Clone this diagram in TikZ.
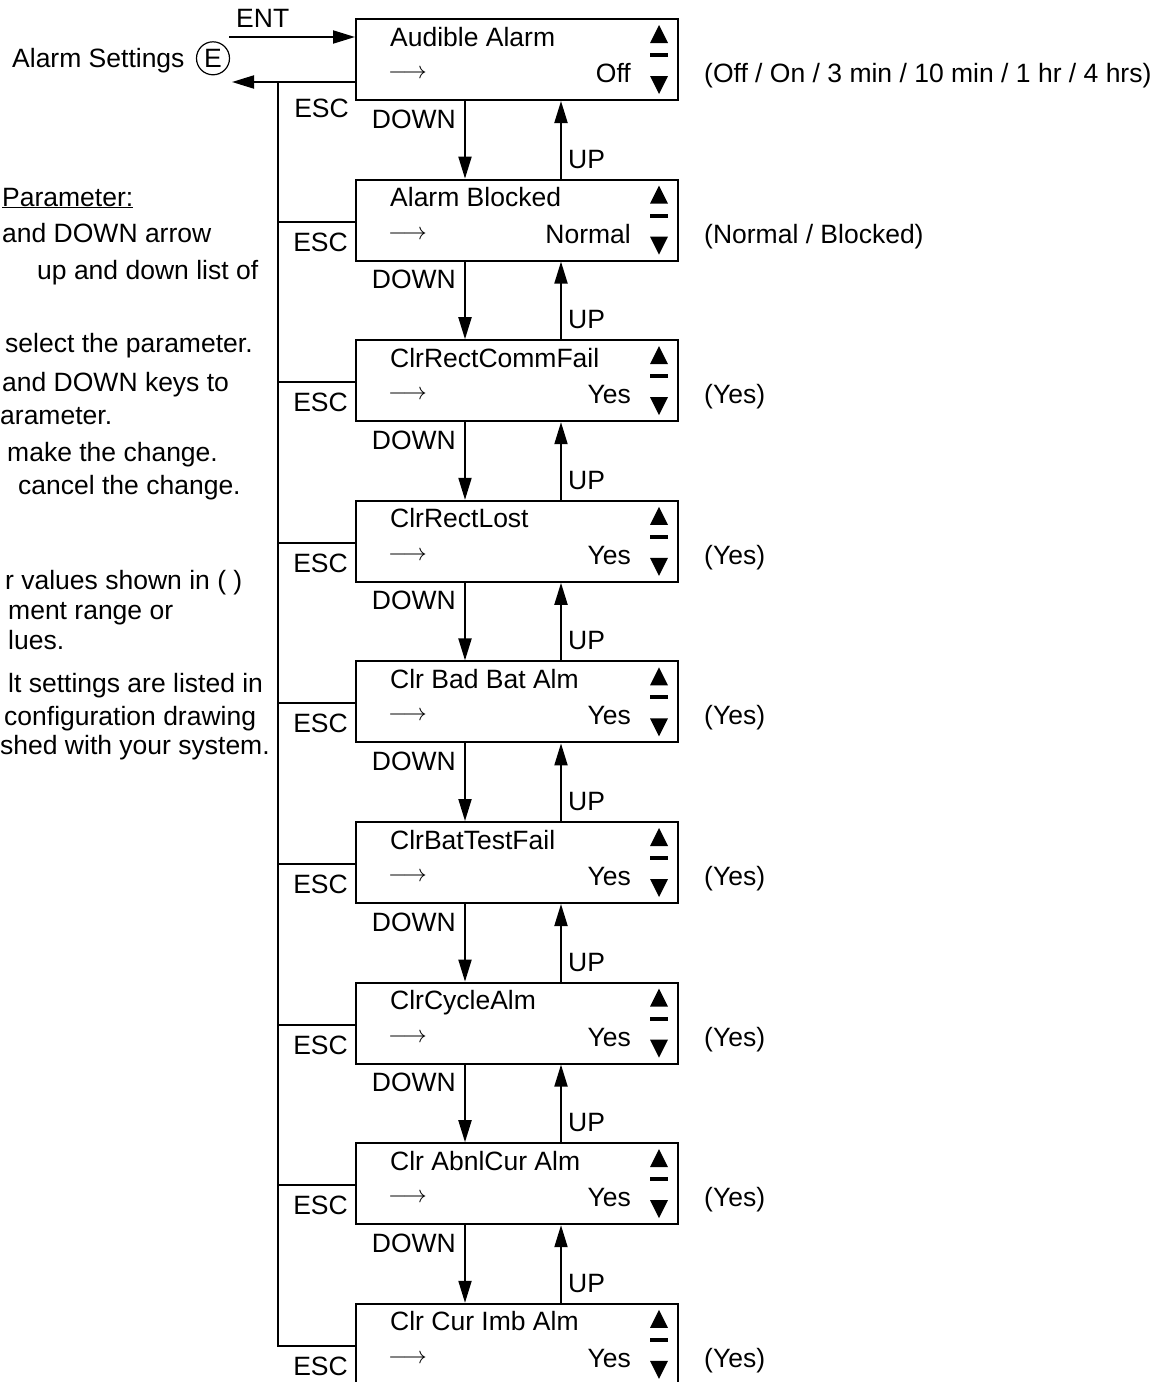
\documentclass[tikz,border=0pt]{standalone}
\usepackage{graphicx}
\usepackage{fontspec}
\setmainfont{Liberation Sans}
\usetikzlibrary{arrows.meta,calc}
\tikzset{
  txt/.style={inner sep=0pt,font=\fontsize{26.5}{30}\selectfont},
  mbox/.style={draw,line width=2pt,minimum width=322pt,minimum height=81pt,inner sep=0pt},
  conn/.style={line width=2pt},
  arr/.style={conn,-{Triangle[length=22pt,width=13pt]}},
}
\newcommand\drawmenubox[5]{%
  \node[mbox] (#1) at (517,#2+40.5) {};
  \node[txt,anchor=base west] (#1t) at (390,#2+27) {#3};
  \node[inner sep=0pt,anchor=west] (#1a) at (388,#2+55) {\scalebox{2.4}{$\longrightarrow$}};
  \node[txt,anchor=base east] (#1v) at (631,#2+63.5) {#4};
  \node[txt,anchor=base west] (#1r) at (704,#2+63.5) {#5};
  \fill (650,#2+24) -- (668,#2+24) -- (659,#2+6) -- cycle;
  \draw[line width=4pt] (650,#2+36) -- (668,#2+36);
  \fill (650,#2+57) -- (668,#2+57) -- (659,#2+75) -- cycle;
}
\begin{document}
\begin{tikzpicture}[x=1pt,y=-1pt]
\useasboundingbox (0,0) rectangle (1175,1382);
\fill[white] (0,0) rectangle (1175,1382);
\clip (0,0) rectangle (1175,1382);

% menu boxes
\drawmenubox{b1}{19}{Audible Alarm}{Off}{(Off / On / 3 min / 10 min / 1 hr / 4 hrs)}
\drawmenubox{b2}{179.6}{Alarm Blocked}{Normal}{(Normal / Blocked)}
\drawmenubox{b3}{340.2}{ClrRectCommFail}{Yes}{(Yes)}
\drawmenubox{b4}{500.8}{ClrRectLost}{Yes}{(Yes)}
\drawmenubox{b5}{661.4}{Clr Bad Bat Alm}{Yes}{(Yes)}
\drawmenubox{b6}{822}{ClrBatTestFail}{Yes}{(Yes)}
\drawmenubox{b7}{982.6}{ClrCycleAlm}{Yes}{(Yes)}
\drawmenubox{b8}{1143.2}{Clr AbnlCur Alm}{Yes}{(Yes)}
\drawmenubox{b9}{1303.8}{Clr Cur Imb Alm}{Yes}{(Yes)}

% DOWN / UP connectors
\foreach \i [evaluate=\i as \j using int(\i+1)] in {1,...,8} {
  \draw[arr] ([xshift=110pt]b\i.south west) -- ([xshift=110pt]b\j.north west);
  \draw[arr] ([xshift=206pt]b\j.north west) -- ([xshift=206pt]b\i.south west);
  \node[txt,anchor=base east] (down\i) at ([xshift=101pt,yshift=-27pt]b\i.south west) {DOWN};
  \node[txt,anchor=base west] (up\i) at ([xshift=213pt,yshift=-67pt]b\i.south west) {UP};
}

% title and ENT / ESC
\node[txt,anchor=base west] (title) at (12,67) {Alarm Settings};
\node[circle,draw,line width=1.2pt,minimum size=33pt,inner sep=0pt,font=\fontsize{26.5}{30}\selectfont] (ekey) at (213,58.3) {E};
\coordinate (entstart) at (229,37);
\draw[arr] (entstart) -- ([yshift=22.5pt]b1.west);
\node[txt,anchor=base west] (ent) at (236,27) {ENT};
\coordinate (escend) at (232,82);
\draw[arr] ([yshift=-22.5pt]b1.west) -- (escend);
\coordinate (trunk) at (278,82);
\draw[conn] (trunk) |- ([yshift=-1.5pt]b9.west);
\foreach \i in {2,...,8} {
  \draw[conn] ([yshift=-1.5pt]b\i.west) -- ([yshift=-1.5pt]b\i.west -| trunk);
}
\node[txt,anchor=base east] (esc1) at (349,117) {ESC};
\foreach \i in {2,...,9} {
  \node[txt,anchor=base east] (esc\i) at ([xshift=-7pt,yshift=-72.5pt]b\i.north west) {ESC};
}

% instruction text (cropped at left edge)
\node[txt,anchor=base west] (l1) at (2,206) {\underline{Parameter:}};
\node[txt,anchor=base west] (l2) at (2,242) {and DOWN arrow};
\node[txt,anchor=base west] (l3) at (37,279) {up and down list of};
\node[txt,anchor=base west] (l4) at (5,352) {select the parameter.};
\node[txt,anchor=base west] (l5) at (2,391) {and DOWN keys to};
\node[txt,anchor=base west] (l6) at (0,424) {arameter.};
\node[txt,anchor=base west] (l7) at (7,461) {make the change.};
\node[txt,anchor=base west] (l8) at (18,494) {cancel the change.};
\node[txt,anchor=base west] (l9) at (5,589) {r values shown in ( )};
\node[txt,anchor=base west] (l10) at (8,619) {ment range or};
\node[txt,anchor=base west] (l11) at (8,649) {lues.};
\node[txt,anchor=base west] (l12) at (8,692) {lt settings are listed in};
\node[txt,anchor=base west] (l13) at (4,725) {configuration drawing};
\node[txt,anchor=base west] (l14) at (0,754) {shed with your system.};
\end{tikzpicture}
\end{document}
